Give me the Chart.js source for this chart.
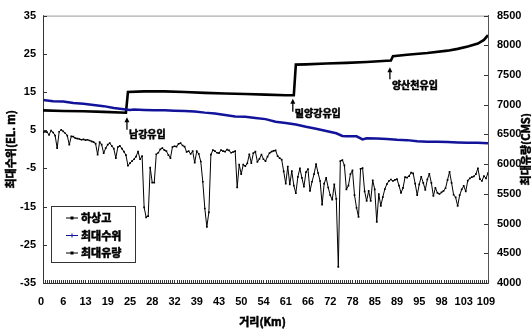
<!DOCTYPE html>
<html>
<head>
<meta charset="utf-8">
<script src="https://cdn.jsdelivr.net/npm/chart.js@4.4.1/dist/chart.umd.min.js"></script>
<style>
  body { margin: 0; background: #fff; }
  canvas { display: block; }
</style>
</head>
<body>
<canvas id="riverChart" width="531" height="332"></canvas>
<script>
// x tick labels (km), one every 11 sections
const kmLabels = [0, 6, 13, 19, 25, 28, 32, 39, 43, 50, 54, 61, 66, 72, 78, 85, 89, 95, 98, 103, 109];

// 하상고 (bed elevation, EL. m), one value per section
const bedLevel = [
  4.4, 4.6, 4.5, 3.8, 4.9, 4.4, 3.6, 0.3, 4.6, 5.1,
  4.7, 4.2, 3.6, 1.2, 3.4, 3.3, 2.9, 2.8, 2.7, 2.5,
  2.6, 2.4, 2.5, 2.3, 2.1, 1.9, 1.5, -1.4, 1.9, 1.2,
  -1.0, 0.3, 1.2, 1.6, 0.9, 0.2, -2.3, 0.6, 0.9, 0.2,
  -0.6, -1.5, -4.3, -3.6, -3.1, -2.6, -1.9, -0.6, -2.6, -1.8,
  -15.2, -17.8, -17.5, -4.8, -8.7, -8.7, -1.3, -0.9, 0.0, 0.3,
  -0.2, -0.5, -1.5, -2.3, 0.6, 0.8, 0.7, 1.4, 1.6, 1.0,
  0.7, -0.7, -0.5, -1.2, -0.5, -3.5, -0.5, -1.2, -3.2, -8.5,
  -15.5, -20.3, -16.5, -1.4, -0.2, -0.5, -0.9, -1.0, -0.2, -0.5,
  -0.6, -0.1, -0.3, -0.9, -0.7, -0.5, -10.0, -4.0, -6.5, -4.0,
  -4.4, -3.7, -1.3, -3.6, -1.0, -0.6, -3.3, -2.5, -1.4, -2.6,
  -3.1, -1.9, -1.0, -0.6, -0.4, -0.3, -1.8, -2.3, -2.7, -5.8,
  -9.0, -4.5, -9.2, -5.7, -9.5, -11.5, -7.2, -5.0, -7.5, -9.8,
  -6.0, -5.2, -10.9, -8.5, -6.5, -3.9, -6.2, -8.3, -14.5, -9.0,
  -7.5, -10.0, -12.0, -13.2, -9.2, -13.0, -30.8, -3.1, -2.8, -4.2,
  -10.5, -9.5, -6.5, -5.5, -12.0, -15.3, -17.7, -5.1, -4.9, -11.0,
  -13.5, -10.9, -13.5, -8.1, -10.5, -19.0, -11.7, -14.8, -12.5, -10.4,
  -9.1, -8.3, -7.9, -8.3, -8.0, -7.8, -9.5, -11.4, -10.1, -7.3,
  -7.4, -7.0, -6.1, -6.3, -9.0, -12.0, -9.2, -7.2, -8.8, -10.6,
  -7.9, -6.4, -8.8, -12.2, -10.1, -11.4, -11.7, -11.3, -10.9, -10.2,
  -8.0, -5.9, -8.8, -11.9, -12.6, -14.8, -12.0, -10.5, -9.6, -11.0,
  -8.2, -7.6, -7.3, -7.1, -6.5, -5.0, -7.8, -8.3, -7.0, -7.6, -6.2
];

// 최대수위 (max water level, EL. m) read at these sections
const levelStation = [0, 5, 10, 15, 20, 25, 30, 35, 40, 43, 45, 50, 55, 60, 65, 70, 75, 80, 85, 90, 95, 100,
  105, 110, 115, 120, 125, 130, 135, 140, 145, 148, 150, 155, 158, 160, 165, 170, 175, 180, 185, 190, 195, 200, 205, 210, 215, 220];
const maxLevel = [12.9, 12.6, 12.5, 12.1, 11.9, 11.6, 11.3, 10.8, 10.5, 10.3, 10.4, 10.3, 10.2, 10.2, 10.1, 10.0, 9.9, 9.6, 9.4, 9.0, 8.6, 8.5,
  8.2, 7.9, 7.2, 6.9, 6.5, 5.9, 5.4, 4.8, 4.2, 3.5, 3.4, 3.4, 2.6, 2.9, 2.8, 2.7, 2.5, 2.4, 2.1, 2.0, 2.0, 1.9, 1.8, 1.7, 1.7, 1.6];

// 최대유량 (max discharge, CMS) read at these sections
const flowStation = [0, 10, 20, 30, 41, 42, 50, 60, 70, 80, 90, 100, 110, 120, 124, 125, 130, 140, 150, 160, 170, 172, 173, 180, 190, 200, 205, 210, 215, 218, 220];
const maxFlow = [6905, 6895, 6890, 6880, 6865, 7215, 7225, 7225, 7215, 7200, 7190, 7180, 7170, 7160, 7160, 7675, 7680, 7695, 7705, 7720, 7740, 7745, 7815, 7840, 7870, 7910, 7940, 7980, 8030, 8090, 8170];

// tributary inflow notes: section, arrow tip / tail and text height on the discharge axis
const inflows = [
  { text: '남강유입', at: 41.5, tip: 6790, tail: 6580, textAt: 6500 },
  { text: '밀양강유입', at: 123.5, tip: 7100, tail: 6880, textAt: 6855 },
  { text: '양산천유입', at: 171.5, tip: 7630, tail: 7430, textAt: 7330 }
];

const FONT = "'Liberation Sans Narrow', 'Liberation Sans', 'Noto Sans CJK KR', sans-serif";
const KFONT = "'Noto Sans CJK KR', 'Liberation Sans', sans-serif";

// heavy text: fill plus a thin stroke so the Korean glyphs look bold
function heavyText(ctx, str, x, y) {
  ctx.lineWidth = 0.55;
  ctx.strokeStyle = '#000';
  ctx.fillStyle = '#000';
  ctx.fillText(str, x, y);
  ctx.strokeText(str, x, y);
}

function drawMarker(ctx, kind, x, y, color) {
  ctx.fillStyle = color;
  ctx.strokeStyle = color;
  if (kind === 'rect') {
    ctx.fillRect(x - 1.5, y - 1.5, 3, 3);
  } else if (kind === 'cross') {
    ctx.beginPath();
    ctx.moveTo(x - 2, y); ctx.lineTo(x + 2, y);
    ctx.moveTo(x, y - 2); ctx.lineTo(x, y + 2);
    ctx.stroke();
  }
}

const extras = {
  id: 'extras',
  afterDatasetsDraw(chart) {
    const { ctx, chartArea: a, scales: { x, y, y1 } } = chart;
    ctx.save();

    // top frame
    ctx.strokeStyle = '#9a9a9a';
    ctx.lineWidth = 1;
    ctx.beginPath();
    ctx.moveTo(a.left, a.top + 0.5);
    ctx.lineTo(a.right, a.top + 0.5);
    ctx.stroke();

    // inward tick marks
    ctx.strokeStyle = '#333';
    ctx.beginPath();
    for (let i = 0; i < bedLevel.length; i++) {
      const px = Math.round(x.getPixelForValue(i)) + 0.5;
      ctx.moveTo(px, a.bottom);
      ctx.lineTo(px, a.bottom - 3);
    }
    y.ticks.forEach(t => {
      const py = Math.round(y.getPixelForValue(t.value)) + 0.5;
      ctx.moveTo(a.left, py);
      ctx.lineTo(a.left + 4, py);
    });
    y1.ticks.forEach(t => {
      const py = Math.round(y1.getPixelForValue(t.value)) + 0.5;
      ctx.moveTo(a.right, py);
      ctx.lineTo(a.right - 4, py);
    });
    ctx.stroke();

    // inflow arrows
    ctx.fillStyle = '#000';
    ctx.strokeStyle = '#000';
    ctx.font = 'bold 10px ' + KFONT;
    ctx.textBaseline = 'middle';
    ctx.textAlign = 'left';
    inflows.forEach(f => {
      const px = x.getPixelForValue(f.at);
      const tip = y1.getPixelForValue(f.tip);
      const tail = y1.getPixelForValue(f.tail);
      ctx.lineWidth = 1.3;
      ctx.beginPath();
      ctx.moveTo(px, tail);
      ctx.lineTo(px, tip + 3);
      ctx.stroke();
      ctx.beginPath();
      ctx.moveTo(px, tip);
      ctx.lineTo(px - 2.5, tip + 5);
      ctx.lineTo(px + 2.5, tip + 5);
      ctx.closePath();
      ctx.fill();
      heavyText(ctx, f.text, px + 2, y1.getPixelForValue(f.textAt));
    });

    // legend box
    const lx = 51.5, ly = 206.5, lw = 84, lh = 56;
    ctx.lineWidth = 1;
    ctx.strokeStyle = '#333';
    ctx.fillStyle = '#fff';
    ctx.fillRect(lx, ly, lw, lh);
    ctx.strokeRect(lx, ly, lw, lh);
    ctx.font = 'bold 11px ' + KFONT;
    chart.data.datasets.forEach((ds, k) => {
      const ry = 218 + k * 17.5;
      ctx.strokeStyle = ds.borderColor;
      ctx.lineWidth = 1;
      ctx.beginPath();
      ctx.moveTo(66, ry);
      ctx.lineTo(78, ry);
      ctx.stroke();
      drawMarker(ctx, ds.legendMarker, 72, ry, ds.borderColor);
      heavyText(ctx, ds.label, 81, ry);
    });

    // axis titles
    ctx.textAlign = 'center';
    ctx.font = 'bold 11px ' + KFONT;
    heavyText(ctx, '거리(Km)', (a.left + a.right) / 2 - 3, 322);

    ctx.save();
    ctx.translate(11, (a.top + a.bottom) / 2);
    ctx.rotate(-Math.PI / 2);
    heavyText(ctx, '최대수위(EL. m)', 0, 0);
    ctx.restore();

    ctx.translate(526, (a.top + a.bottom) / 2);
    ctx.rotate(-Math.PI / 2);
    heavyText(ctx, '최대유량(CMS)', 0, 0);
    ctx.restore();
  }
};

const ctx = document.getElementById('riverChart').getContext('2d');
new Chart(ctx, {
  type: 'line',
  data: {
    labels: bedLevel.map((_, i) => i),
    datasets: [
      {
        label: '하상고',
        data: bedLevel,
        yAxisID: 'y',
        borderColor: '#000',
        backgroundColor: '#000',
        borderWidth: 1,
        pointStyle: 'rect',
        pointRadius: 1.2,
        pointBorderWidth: 0,
        legendMarker: 'rect'
      },
      {
        label: '최대수위',
        data: levelStation.map((s, k) => ({ x: s, y: maxLevel[k] })),
        yAxisID: 'y',
        borderColor: '#12129a',
        backgroundColor: '#12129a',
        borderWidth: 2.5,
        pointRadius: 0,
        legendMarker: 'cross'
      },
      {
        label: '최대유량',
        data: flowStation.map((s, k) => ({ x: s, y: maxFlow[k] })),
        yAxisID: 'y1',
        borderColor: '#000',
        backgroundColor: '#000',
        borderWidth: 2.6,
        pointRadius: 0,
        legendMarker: 'rect'
      }
    ]
  },
  options: {
    responsive: false,
    animation: false,
    devicePixelRatio: 1,
    layout: { padding: { top: 13, left: 0, right: 0, bottom: 0 } },
    elements: { line: { tension: 0 } },
    plugins: {
      legend: { display: false },
      tooltip: { enabled: false }
    },
    scales: {
      x: {
        type: 'linear',
        min: 0,
        max: bedLevel.length - 1,
        grid: { display: false, drawTicks: false },
        border: { color: '#333', width: 1 },
        afterFit: s => { s.height = 49; },
        ticks: {
          stepSize: 11,
          autoSkip: false,
          maxRotation: 0,
          padding: 12,
          labelOffset: -2,
          color: '#000',
          font: { family: FONT, size: 11, weight: 'bold' },
          callback: v => (v % 11 === 0 ? String(kmLabels[v / 11]) : '')
        }
      },
      y: {
        position: 'left',
        min: -35,
        max: 35,
        grid: { display: false, drawTicks: false },
        border: { color: '#333', width: 1 },
        afterFit: s => { s.width = 43; },
        ticks: {
          stepSize: 10,
          padding: 7,
          color: '#000',
          font: { family: FONT, size: 11, weight: 'bold' },
          callback: v => String(v)
        }
      },
      y1: {
        position: 'right',
        min: 4000,
        max: 8500,
        grid: { display: false, drawTicks: false },
        border: { color: '#555', width: 1 },
        afterFit: s => { s.width = 43; },
        ticks: {
          stepSize: 500,
          padding: 9,
          color: '#000',
          font: { family: FONT, size: 11, weight: 'bold' },
          callback: v => String(v)
        }
      }
    }
  },
  plugins: [extras]
});
</script>
</body>
</html>
